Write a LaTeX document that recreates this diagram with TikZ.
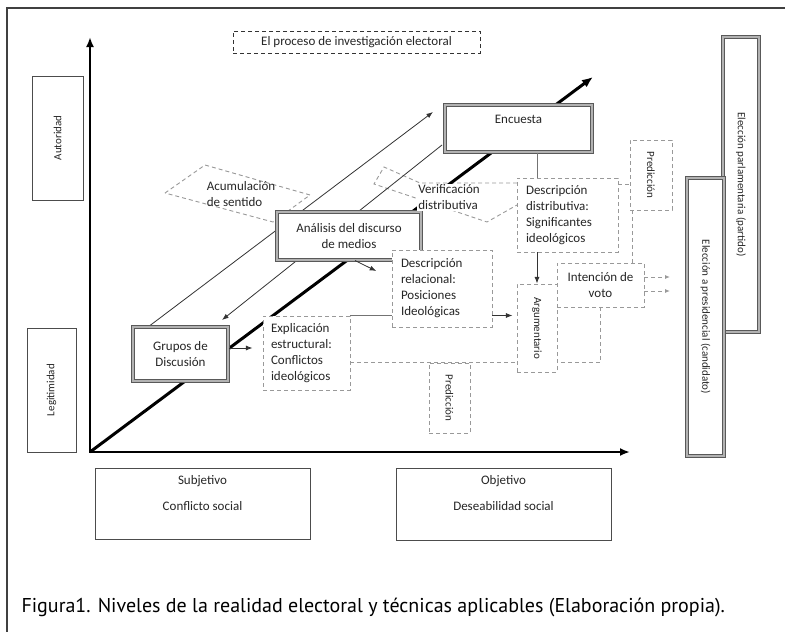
\documentclass[tikz,border=0pt]{standalone}
\usepackage{fontspec}
\setmainfont{Carlito}
\newfontfamily\figfont{PT Sans}
\usepackage{tikz}
\usetikzlibrary{arrows.meta}

\begin{document}
\begin{tikzpicture}[x=1pt, y=-1pt,
        every node/.style={font=\fontsize{13}{16}\selectfont, text=black!85},
        solidbox/.style={draw=black!65, line width=1.1pt, double=black!30, double distance=1.2pt, fill=white},
        dashbox/.style={draw=black!40, line width=0.9pt, dash pattern=on 4pt off 3pt, fill=white},
        plainbox/.style={draw=black!70, line width=1pt, fill=white},
        sidefont/.style={font=\fontsize{11}{13}\selectfont},
        thinline/.style={draw=black!80, line width=0.8pt},
        dashline/.style={draw=black!40, line width=0.9pt, dash pattern=on 4pt off 3pt}]
        \useasboundingbox (0,0) rectangle (785,632);
        \draw[black!75, line width=1.5pt] (7,632) -- (7,8) -- (785,8);

        \coordinate (O) at (90,452);
        \coordinate (ytip) at (90,37);
        \coordinate (xtip) at (630,452);
        \coordinate (dtip) at (593,77);
        \coordinate (upfrom) at (148,327);
        \coordinate (upto) at (433,112);
        \coordinate (downfrom) at (442,145);
        \coordinate (downto) at (222,320);

        \draw[dashline] (165,193) -- (205,165) -- (310,195) -- (273,222) -- cycle;
        \draw[dashline] (517,183) -- (420,183) -- (384,167) -- (374,184) -- (487,222) -- (517,205);

        \draw[line width=2.5pt, line cap=rect, -{Latex[length=10pt,width=8pt]}] (O) -- (ytip);
        \draw[line width=2.5pt, line cap=rect, -{Latex[length=10pt,width=8pt]}] (O) -- (xtip);
        \draw[line width=3pt, -{Latex[length=11pt,width=9pt]}] (O) -- (dtip);
        \draw[thinline, -{Latex}] (upfrom) -- (upto);
        \draw[thinline, -{Latex}] (downfrom) -- (downto);

        \node[dashbox, draw=black!80, fill=none, minimum width=247, minimum height=22] (title) at (356.5,42) {El proceso de investigación electoral};
        \node[plainbox, sidefont, minimum width=51, minimum height=124] (autor) at (57.5,138) {\rotatebox{90}{Autoridad}};
        \node[plainbox, sidefont, minimum width=49, minimum height=124] (legit) at (51.5,390) {\rotatebox{90}{Legitimidad}};
        \node[plainbox, minimum width=215, minimum height=71] (subj) at (202.5,503.5) {};
        \node[align=center] (subjtxt) at (202.5,493) {Subjetivo\\[10pt]Conflicto social};
        \node[plainbox, minimum width=215, minimum height=72] (obj) at (503.5,504) {};
        \node[align=center] (objtxt) at (503.5,493) {Objetivo\\[10pt]Deseabilidad social};
        \node[solidbox, sidefont, minimum width=36, minimum height=295] (parl) at (741,184.5) {\rotatebox{-90}{Elección parlamentaria (partido)}};
        \node[solidbox, sidefont, minimum width=37, minimum height=278] (pres) at (705.5,317) {\rotatebox{-90}{Elección a presidencial (candidato)}};

        \node[solidbox, minimum width=147, minimum height=47, text depth=18pt] (encuesta) at (518.5,128.5) {Encuesta};
        \node[solidbox, align=center, minimum width=144, minimum height=48] (analisis) at (349,236) {Análisis del discurso\\de medios};
        \node[solidbox, align=center, minimum width=95, minimum height=54] (grupos) at (180.5,354) {Grupos de\\Discusión};
        \node[dashbox, align=left, text width=71pt, inner xsep=8pt, minimum height=74] (explic) at (306.5,353) {Explicación\\estructural:\\Conflictos\\ideológicos};
        \node[dashbox, align=left, text width=82pt, inner xsep=9pt, minimum height=77] (descrel) at (442,288.5) {Descripción\\relacional:\\Posiciones\\Ideológicas};
        \node[dashbox, align=left, text width=83pt, inner xsep=9pt, minimum height=74] (descdist) at (567.5,215) {Descripción\\distributiva:\\Significantes\\ideológicos};
        \node[dashbox, sidefont, minimum width=40, minimum height=88] (argum) at (537,328) {\rotatebox{-90}{Argumentario}};
        \node[dashbox, align=center, minimum width=87, minimum height=44] (intenc) at (600.5,285) {Intención de\\voto};
        \node[dashbox, sidefont, minimum width=42, minimum height=70] (preda) at (651,175) {\rotatebox{-90}{Predicción}};
        \node[dashbox, sidefont, minimum width=41, minimum height=70] (predb) at (449.5,398) {\rotatebox{-90}{Predicción}};

        \node[align=left] (acum) at (241,194.5) {Acumulación\\de sentido};
        \node[align=left, fill=white, inner sep=1pt] (verif) at (449,197.5) {Verificación\\distributiva};

        \coordinate (vote1) at (670,277);
        \coordinate (vote2) at (670,291);
        \draw[black!55, line width=0.8pt] (encuesta.south -| argum.north) -- (descdist.north -| argum.north);
        \draw[thinline, -{Latex}] (descdist.south -| argum.north) -- (argum.north);
        \draw[dashline] ([yshift=-7pt]descdist.north east) -- ([yshift=-7pt]descdist.north east -| preda.west);
        \draw[dashline] ([xshift=3pt]preda.south west) -- ([xshift=3pt]preda.south west |- intenc.north);
        \draw[dashline, -{Latex[length=5pt,width=4pt]}] (intenc.east |- vote1) -- (vote1);
        \draw[dashline, -{Latex[length=5pt,width=4pt]}] (intenc.east |- vote2) -- (vote2);
        \draw[dashline] (intenc.south) |- (argum.east |- predb.north);
        \draw[dashline] (explic.east |- predb.north) -- (argum.west |- predb.north);
        \draw[thinline, -{Latex}, shorten >=4pt] ([yshift=-27pt]descrel.east) -- ([yshift=-27pt]descrel.east -| argum.west);
        \draw[black!55, line width=0.8pt] (explic.north east) -- (explic.north east -| descrel.west);
        \draw[thinline, -{Latex}, shorten >=10pt] ([yshift=6pt]grupos.east) -- ([yshift=6pt]grupos.east -| explic.west);
        \draw[thinline, -{Latex}, shorten >=17pt] ([xshift=6pt]analisis.south) -- ([yshift=10pt]descrel.west);

        \node[anchor=base west, font=\figfont\fontsize{20}{24}\selectfont, text=black] (caption) at (18,612) {Figura1. Niveles de la realidad electoral y técnicas aplicables (Elaboración propia).};
    \end{tikzpicture}
\end{document}
